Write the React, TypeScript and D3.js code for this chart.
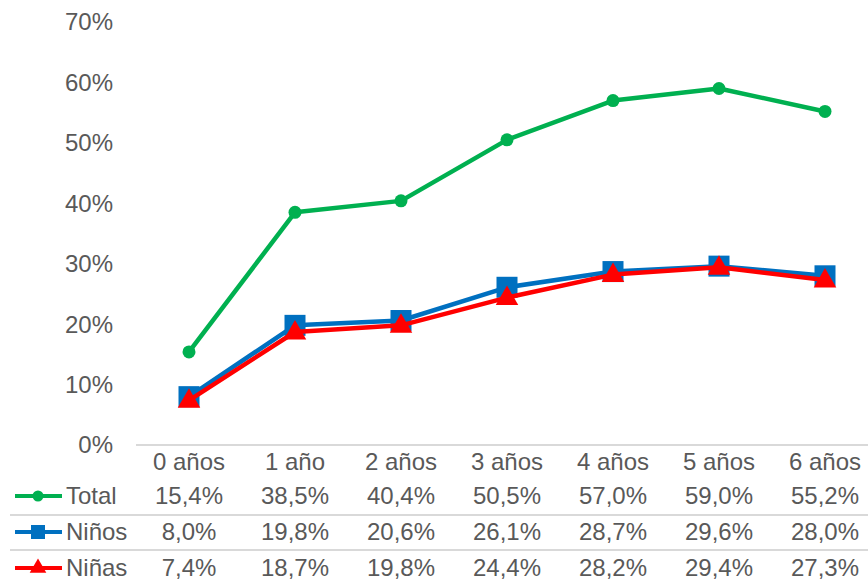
import React from "react";
import * as d3 from "d3";

const categories = ["0 años", "1 año", "2 años", "3 años", "4 años", "5 años", "6 años"];
const totalValues = [15.4, 38.5, 40.4, 50.5, 57.0, 59.0, 55.2];
const ninosValues = [8.0, 19.8, 20.6, 26.1, 28.7, 29.6, 28.0];
const ninasValues = [7.4, 18.7, 19.8, 24.4, 28.2, 29.4, 27.3];
const yTicks = [0, 10, 20, 30, 40, 50, 60, 70];
const seriesNames = ["Total", "Niños", "Niñas"];

const W = 868;
const H = 584;
const FONT = "Liberation Sans, Arial, sans-serif";
const TXT = "#595959";
const FS = 24;

const fmt = (v: number) => v.toFixed(1).replace(".", ",") + "%";

export default function App() {
  const x = d3.scaleBand<string>().domain(categories).range([136, 878]);
  const y = d3.scaleLinear().domain([0, 70]).range([445, 22]);
  const cx = (c: string) => (x(c) as number) + x.bandwidth() / 2;
  const line = d3
    .line<number>()
    .x((_, i) => cx(categories[i]))
    .y((d) => y(d));

  const series = [
    { name: seriesNames[0], values: totalValues, color: "#00B050", marker: "circle" },
    { name: seriesNames[1], values: ninosValues, color: "#0070C0", marker: "square" },
    { name: seriesNames[2], values: ninasValues, color: "#FF0000", marker: "triangle" },
  ];

  const marker = (type: string, px: number, py: number, color: string, key: string) => {
    if (type === "circle") return <circle key={key} cx={px} cy={py} r={6.5} fill={color} />;
    if (type === "square")
      return <rect key={key} x={px - 10.5} y={py - 10.5} width={21} height={21} fill={color} />;
    const tri = d3.symbol().type(d3.symbolTriangle).size(220)();
    return <path key={key} d={tri as string} transform={`translate(${px},${py + 1})`} fill={color} />;
  };

  const rowY = [496, 532, 568];
  const legendMarker = (type: string, color: string, ly: number, key: string) => {
    if (type === "circle") return <circle key={key} cx={38} cy={ly} r={5.5} fill={color} />;
    if (type === "square") return <rect key={key} x={31} y={ly - 7} width={14} height={14} fill={color} />;
    const tri = d3.symbol().type(d3.symbolTriangle).size(120)();
    return <path key={key} d={tri as string} transform={`translate(38,${ly})`} fill={color} />;
  };

  return (
    <svg width={W} height={H} style={{ position: "absolute", left: 0, top: 0 }} fontFamily={FONT}>
      <rect width={W} height={H} fill="#fff" />
      {yTicks.map((t) => (
        <text key={t} x={113} y={y(t)} dy="0.35em" textAnchor="end" fontSize={FS} fill={TXT}>
          {t}%
        </text>
      ))}
      <line x1={136} x2={W} y1={445} y2={445} stroke="#d9d9d9" strokeWidth={2} />
      <line x1={10} x2={W} y1={515} y2={515} stroke="#d9d9d9" strokeWidth={2} />
      <line x1={10} x2={W} y1={550} y2={550} stroke="#d9d9d9" strokeWidth={2} />
      {series.map((s) => (
        <g key={s.name}>
          <path d={line(s.values) as string} fill="none" stroke={s.color} strokeWidth={4.5} strokeLinejoin="round" />
          {s.values.map((v, i) => marker(s.marker, cx(categories[i]), y(v), s.color, s.name + i))}
        </g>
      ))}
      {categories.map((c) => (
        <text key={c} x={cx(c)} y={462} dy="0.35em" textAnchor="middle" fontSize={FS} fill={TXT}>
          {c}
        </text>
      ))}
      {series.map((s, r) => (
        <g key={"row" + s.name}>
          <line x1={15} x2={62} y1={rowY[r]} y2={rowY[r]} stroke={s.color} strokeWidth={4} />
          {legendMarker(s.marker, s.color, rowY[r], "lm" + r)}
          <text x={66} y={rowY[r]} dy="0.35em" fontSize={FS} fill={TXT}>
            {s.name}
          </text>
          {s.values.map((v, i) => (
            <text key={i} x={cx(categories[i])} y={rowY[r]} dy="0.35em" textAnchor="middle" fontSize={FS} fill={TXT}>
              {fmt(v)}
            </text>
          ))}
        </g>
      ))}
    </svg>
  );
}
